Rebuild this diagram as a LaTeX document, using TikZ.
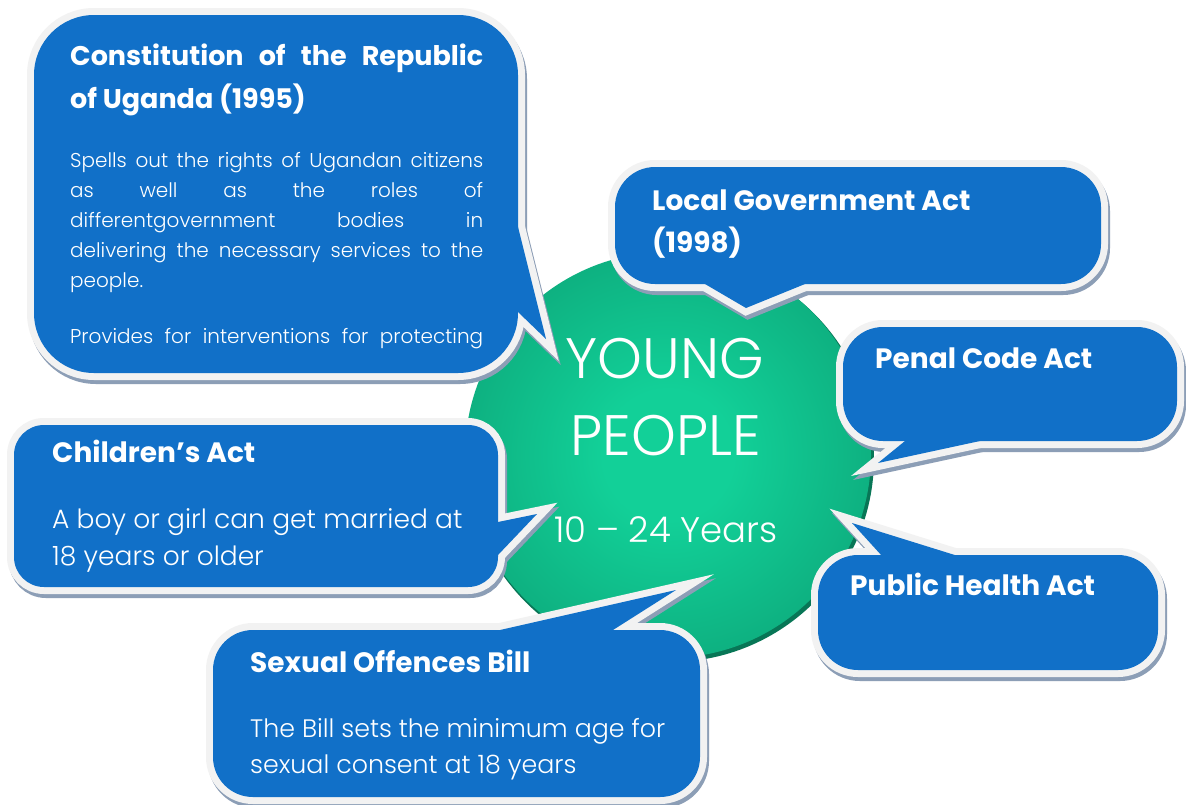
\documentclass[tikz,border=0pt]{standalone}
\usepackage{fontspec}
\setmainfont{Poppins}
\newfontfamily\thinfont{Poppins Light}
\usetikzlibrary{calc}
\definecolor{Callout-Blue}{RGB}{17,112,200}
\definecolor{Callout-Rim}{RGB}{242,242,242}
\definecolor{Callout-Shade}{RGB}{140,158,182}
\definecolor{Youth-Light}{RGB}{18,208,152}
\definecolor{Youth-Mid}{RGB}{13,168,122}
\definecolor{Youth-Dark}{RGB}{11,150,108}
\definecolor{Youth-Edge}{RGB}{8,118,86}

\pgfdeclareradialshading{youthglow}{\pgfpoint{0bp}{0bp}}{%
  color(0bp)=(Youth-Light); color(8bp)=(Youth-Light); color(30bp)=(Youth-Mid); color(44bp)=(Youth-Dark); color(50bp)=(Youth-Dark)}

\tikzset{
  callout shade/.style={draw=Callout-Shade, line width=14, shift={(2,4)}},
  callout rim/.style={draw=Callout-Rim, line width=14},
  act title/.style={text=white, font=\bfseries\fontsize{28}{42}\selectfont, inner sep=0, anchor=base west},
  act lines/.style={text=white, font=\bfseries\fontsize{28}{42}\selectfont, inner sep=0, anchor=north west, align=left},
  act note/.style={text=white, font=\thinfont\fontsize{26}{37}\selectfont, inner sep=0, anchor=north west, align=left},
  youth text/.style={text=white, font=\thinfont\fontsize{57}{60}\selectfont, inner sep=0, anchor=base},
}

% #1 corner radius, #2 box, #3 edge point, #4 tip, #5 edge point
\newcommand\bubble[5]{%
  \draw[callout shade, rounded corners=#1] #2;
  \draw[callout shade] ($(#4)!1.4!(#3)$) -- (#4) -- ($(#4)!1.4!(#5)$);
  \draw[callout rim, rounded corners=#1] #2;
  \draw[callout rim] ($(#4)!1.4!(#3)$) -- (#4) -- ($(#4)!1.4!(#5)$);
  \fill[Callout-Blue, rounded corners=#1] #2;
  \fill[Callout-Blue] ($(#4)!1.4!(#3)$) -- (#4) -- ($(#4)!1.4!(#5)$) -- cycle;
}

\begin{document}
\begin{tikzpicture}[x=1pt, y=-1pt]
  \path[use as bounding box, fill=white] (0,0) rectangle (1186,804);

  \fill[Youth-Edge] (670,458) circle (204);
  \node[circle, minimum size=406, inner sep=0, shading=youthglow] (youth) at (668,455) {};
  \node[youth text] (young)  at (665,378) {YOUNG};
  \node[youth text] (people) at (666,455) {PEOPLE};
  \node[youth text, font=\thinfont\fontsize{35.5}{40}\selectfont] (ages) at (666,542) {10 – 24 Years};

  \bubble{60}{(34,15) rectangle (518,373)}{518,227}{546,339}{518,312}
  \bubble{40}{(615,167) rectangle (1101,284)}{705,284}{746,308}{805,284}
  \bubble{40}{(843,327) rectangle (1177,441)}{905,441}{878,463}{980,441}
  \bubble{30}{(14,425) rectangle (498,587)}{498,522}{537,514}{498,555}
  \bubble{40}{(818,555) rectangle (1158,670)}{882,556}{852,523}{958,556}
  \bubble{40}{(213,630) rectangle (700,797)}{500,630}{676,590}{613,630}

  \node[act lines, text width=413, align=justify, font=\bfseries\fontsize{27}{43}\selectfont] (constitution) at (70,35)
    {\strut Constitution of the Republic\linebreak of Uganda (1995)};
  \node[act note, text width=413, align=justify, font=\thinfont\fontsize{20}{30}\selectfont] (constitution text) at (70,146)
    {\strut Spells out the rights of Ugandan citizens\linebreak as well as the roles of\linebreak
     differentgovernment bodies in\linebreak delivering the necessary services to the\linebreak
     people.\\[26pt] Provides for interventions for protecting\parfillskip=0pt\par};

  \node[act lines] (localgov) at (652,180.6) {\strut Local Government Act\\(1998)};
  \node[act title] (penal) at (875,368) {Penal Code Act};
  \node[act title] (publichealth) at (850,595) {Public Health Act};

  \node[act title] (children) at (52,462) {Children’s Act};
  \node[act note, font=\thinfont\fontsize{26.5}{37}\selectfont] (children text) at (52,502)
    {\strut A boy or girl can get married at\\18 years or older};

  \node[act title] (sexual) at (250,672) {Sexual Offences Bill};
  \node[act note, font=\thinfont\fontsize{25.3}{36}\selectfont] (sexual text) at (250,712)
    {\strut The Bill sets the minimum age for\\sexual consent at 18 years};
\end{tikzpicture}
\end{document}
